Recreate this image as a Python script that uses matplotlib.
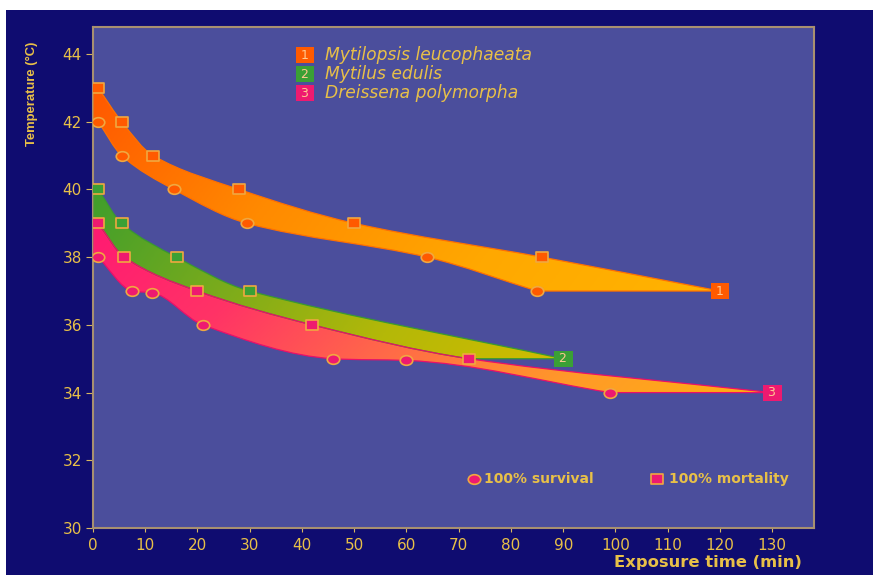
import numpy as np
import matplotlib
matplotlib.use('Agg')
import matplotlib.pyplot as plt
from matplotlib.path import Path
from matplotlib.patches import PathPatch, Rectangle
from matplotlib.transforms import Affine2D
from matplotlib.colors import LinearSegmentedColormap

# --- data (temperature in degC, exposure in min) ---
species = ['Mytilopsis leucophaeata', 'Mytilus edulis', 'Dreissena polymorpha']

# 1: Mytilopsis leucophaeata
mort1_x = [1, 5.5, 11.5, 28, 50, 86]
mort1_y = [43, 42, 41, 40, 39, 38]
surv1_x = [1, 5.5, 15.5, 29.5, 64, 85]
surv1_y = [42, 41, 40, 39, 38, 37]
end1 = (120, 37)

# 2: Mytilus edulis
mort2_x = [1, 5.5, 16, 30]
mort2_y = [40, 39, 38, 37]
end2 = (90, 35)

# 3: Dreissena polymorpha
mort3_x = [1, 6, 20, 42, 72]
mort3_y = [39, 38, 37, 36, 35]
surv3_x = [1, 7.5, 11.3, 21, 46, 60, 99]
surv3_y = [38, 37, 36.95, 36, 35, 34.95, 34]
end3 = (130, 34)

x_ticks = list(range(0, 140, 10))
y_ticks = list(range(30, 46, 2))

# --- colours ---
navy = '#0f0c70'
face = '#4b4e9c'
gold = '#e8c048'
edge_tan = '#f0a840'
col1 = '#ff5a00'
col2 = '#3aa035'
col3 = '#ee1a70'


def curve_verts(xs, ys):
    """Smooth monotone cubic through the points, as Bezier points."""
    x = np.asarray(xs, float)
    y = np.asarray(ys, float)
    d = np.diff(y) / np.diff(x)
    m = np.zeros_like(y)
    m[0], m[-1] = d[0], d[-1]
    m[1:-1] = (y[2:] - y[:-2]) / (x[2:] - x[:-2])
    # Fritsch-Carlson limiter, keeps the edge from wobbling
    for i in range(len(d)):
        if d[i] == 0:
            m[i] = m[i + 1] = 0
            continue
        a, b = m[i] / d[i], m[i + 1] / d[i]
        r = np.hypot(a, b)
        if r > 3:
            m[i] = 3 / r * a * d[i]
            m[i + 1] = 3 / r * b * d[i]
    verts = [(x[0], y[0])]
    for i in range(len(x) - 1):
        h = x[i + 1] - x[i]
        verts += [(x[i] + h / 3, y[i] + m[i] * h / 3),
                  (x[i + 1] - h / 3, y[i + 1] - m[i + 1] * h / 3),
                  (x[i + 1], y[i + 1])]
    return verts


def edge(xs, ys, tail=None, upto=None):
    """Edge as (verts, codes); optional straight tail to a point."""
    v = curve_verts(xs, ys)
    if upto is not None:
        v = v[:3 * upto + 1]
    c = [Path.LINETO] + [Path.CURVE4] * (len(v) - 1)
    if tail is not None:
        v = v + [tail]
        c = c + [Path.LINETO]
    return v, c


def band_path(upper, lower):
    vu, cu = upper
    vl, cl = lower
    vl = vl[::-1]
    cl = [Path.LINETO] + cl[1:][::-1]
    verts = [(0, vu[0][1])] + vu + vl + [(0, vl[-1][1]), (0, vu[0][1])]
    codes = [Path.MOVETO] + cu + cl + [Path.LINETO, Path.CLOSEPOLY]
    return Path(verts, codes)


fig = plt.figure(figsize=(8.73, 5.75), dpi=100, facecolor='white')
fig.patches.append(Rectangle((6 / 873, 0), 1, 1 - 10 / 575, transform=fig.transFigure,
                             facecolor=navy, edgecolor='none', zorder=-10))
ax = fig.add_axes([93 / 873, 1 - 528 / 575, 721 / 873, 501 / 575])
ax.set_facecolor(face)
ax.set_xlim(0, 138)
ax.set_ylim(30, 44.8)

# gradient grid in data space
gx = np.linspace(0, 135, 500)
gy = np.linspace(33, 44, 300)
GX, GY = np.meshgrid(gx, gy)

up1 = edge(mort1_x + [end1[0]], mort1_y + [end1[1]])
lo1 = edge(surv1_x, surv1_y, tail=end1)
up3 = edge(mort3_x + [end3[0]], mort3_y + [end3[1]])
lo3 = edge(surv3_x, surv3_y, tail=end3)
up2 = edge(mort2_x + [end2[0]], mort2_y + [end2[1]])
lo2 = edge(mort3_x + [end3[0]], mort3_y + [end3[1]], tail=end2, upto=len(mort3_x) - 1)

bands = [
    (up2, lo2, ['#3f9e2c', '#7aab1c', '#b4b808', '#d0bc00'], 90, 40, 35, '#3a9a30'),
    (up3, lo3, ['#ff1a72', '#ff3366', '#ff6a48', '#ff9a28', '#ffb010'], 130, 39, 34, '#e8106a'),
    (up1, lo1, ['#ff5800', '#ff8a00', '#ffa800', '#ffb400'], 120, 43, 37, '#ff7000'),
]

for upper, lower, cols, xend, ytop, ybot, ecol in bands:
    path = band_path(upper, lower)
    patch = PathPatch(path, facecolor='none', edgecolor=ecol, lw=0.9,
                      transform=ax.transData, zorder=3)
    ax.add_patch(patch)
    t = 0.8 * GX / xend + 0.2 * (ytop - GY) / (ytop - ybot)
    cmap = LinearSegmentedColormap.from_list('band', cols)
    im = ax.imshow(np.clip(t, 0, 1), cmap=cmap, vmin=0, vmax=1, origin='lower',
                   extent=[gx[0], gx[-1], gy[0], gy[-1]], aspect='auto',
                   interpolation='bilinear', zorder=2)
    im.set_clip_path(patch)

# slightly wide markers, like the slide
ell = Path.unit_circle().transformed(Affine2D().scale(1.3, 1.0))
sq = Path.unit_rectangle().transformed(Affine2D().translate(-0.5, -0.5).scale(1.25, 1.0))

mk = dict(linestyle='none', mec=edge_tan, mew=1.2, zorder=5)
ax.plot(surv1_x, surv1_y, marker=ell, ms=9, mfc=col1, **mk)
ax.plot(mort1_x, mort1_y, marker=sq, ms=9, mfc=col1, **mk)
ax.plot(mort2_x, mort2_y, marker=sq, ms=9, mfc=col2, **mk)
ax.plot(surv3_x, surv3_y, marker=ell, ms=9, mfc=col3, **mk)
ax.plot(mort3_x, mort3_y, marker=sq, ms=9, mfc=col3, **mk)

# numbered end labels
for (ex, ey), num, c in zip([end1, end2, end3], ['1', '2', '3'], [col1, col2, col3]):
    ax.text(ex, ey, ' ' + num + ' ', ha='center', va='center', fontsize=9,
            color='#ffc890', zorder=6,
            bbox=dict(boxstyle='square,pad=0.12', fc=c, ec='none'))

# species legend at the top
for i, (name, c) in enumerate(zip(species, [col1, col2, col3])):
    yy = 0.944 - i * 0.038
    ax.text(0.294, yy, ' %d ' % (i + 1), transform=ax.transAxes, ha='center',
            va='center', fontsize=9, color='#ffc890',
            bbox=dict(boxstyle='square,pad=0.12', fc=c, ec='none'))
    ax.text(0.322, yy, name, transform=ax.transAxes, ha='left', va='center',
            fontsize=12.3, style='italic', color=gold)

# marker legend at the bottom
ax.plot([73], [31.45], marker=ell, ms=9, mfc=col3, **mk)
ax.text(74.9, 31.45, '100% survival', ha='left', va='center', fontsize=10,
        fontweight='bold', color=gold)
ax.plot([108], [31.45], marker=sq, ms=9, mfc=col3, **mk)
ax.text(110.2, 31.45, '100% mortality', ha='left', va='center', fontsize=10,
        fontweight='bold', color=gold)

# axes styling
ax.set_xticks(x_ticks)
ax.set_yticks(y_ticks)
for s in ax.spines.values():
    s.set_color('#a89070')
    s.set_linewidth(1.5)
ax.tick_params(axis='x', colors='#d8b860', labelcolor=gold, labelsize=11,
               length=3, pad=4)
ax.tick_params(axis='y', colors='#d8b860', labelcolor=gold, labelsize=11,
               length=5, pad=3)

fig.text(802 / 873, 1 - 563 / 575, 'Exposure time (min)', ha='right', va='center',
         fontsize=11.8, fontweight='bold', color=gold)
fig.text(32 / 873, 1 - 94 / 575, 'Temperature (°C)', rotation=90,
         ha='center', va='center', fontsize=9.4, fontweight='bold', color=gold,
         family=['Liberation Sans', 'DejaVu Sans'])

fig.savefig('out.png', dpi=100, facecolor=fig.get_facecolor())
